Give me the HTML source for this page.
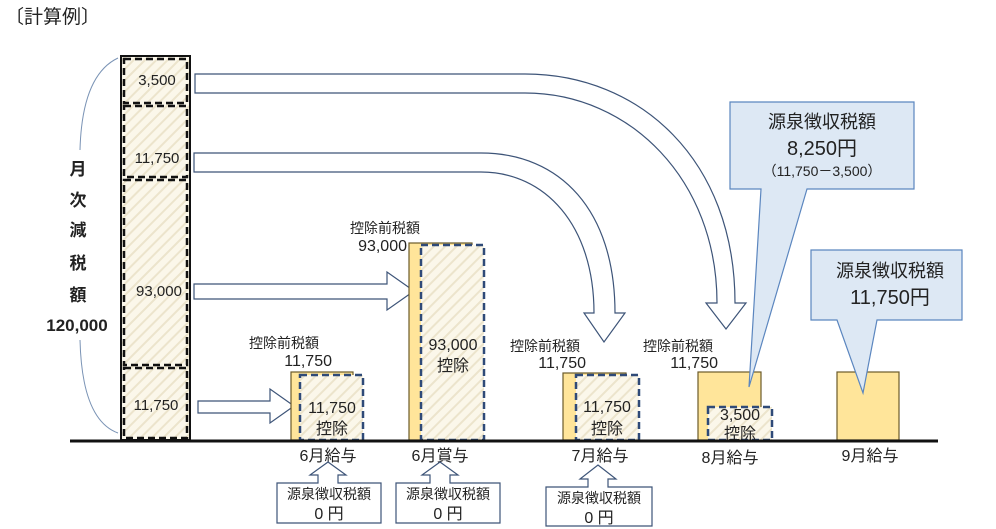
<!DOCTYPE html>
<html><head><meta charset="utf-8"><style>
body{margin:0;background:#fff;}
svg{display:block;}
text{font-family:"Liberation Sans","Noto Sans CJK JP",sans-serif;fill:#222;}
</style></head><body>
<svg width="996" height="529" viewBox="0 0 996 529" xmlns="http://www.w3.org/2000/svg">
<defs>
<pattern id="h" width="8" height="8" patternUnits="userSpaceOnUse" patternTransform="rotate(45)">
<rect width="8" height="8" fill="#fbf7ea"/><rect width="2" height="8" fill="#ece4cc"/>
</pattern>
</defs>
<text x="5" y="23" font-size="19">〔計算例〕</text>
<!-- brace -->
<path d="M118,58 Q82,75 80,150" fill="none" stroke="#7a93b5" stroke-width="1"/>
<path d="M80,340 Q82,420 118,433" fill="none" stroke="#7a93b5" stroke-width="1"/>
<g font-size="17" font-weight="bold" text-anchor="middle">
<text x="78" y="175">月</text><text x="78" y="206">次</text><text x="78" y="236">減</text>
<text x="78" y="269">税</text><text x="78" y="301">額</text><text x="77" y="331">120,000</text>
</g>
<!-- left column -->
<rect x="121" y="56" width="69" height="384" fill="url(#h)" stroke="#111" stroke-width="2"/>
<g fill="none" stroke="#111" stroke-width="2.5" stroke-dasharray="7,4">
<rect x="124" y="59" width="63" height="44"/>
<rect x="124" y="106" width="63" height="71"/>
<rect x="124" y="180" width="63" height="185"/>
<rect x="124" y="368" width="63" height="70"/>
</g>
<g font-size="15" text-anchor="middle">
<text x="157" y="85">3,500</text><text x="157" y="163">11,750</text>
<text x="159" y="296">93,000</text><text x="156" y="410">11,750</text>
</g>
<!-- curved arrows -->
<g fill="#fff" stroke="#3d5478" stroke-width="1.2">
<path d="M195,74 L525,74 C640,74 735,160 735,303 L746,303 L726,329 L706,303 L717,303 C717,180 630,93 525,93 L195,93 Z"/>
<path d="M194,153 L481,153 C560,153 615,210 615,313 L625,313 L604,342 L584,313 L594,313 C594,225 545,172 481,172 L194,172 Z"/>
<path d="M194,284 L387,284 L387,272 L414,291 L387,310 L387,299 L194,299 Z"/>
<path d="M198,401 L270,401 L270,389 L294,406 L270,423 L270,413 L198,413 Z"/>
</g>
<!-- bars -->
<g fill="#ffe59a" stroke="#6b5a2a" stroke-width="1.2">
<rect x="291" y="372" width="62" height="68"/>
<rect x="409" y="243" width="63" height="197"/>
<rect x="563" y="373" width="63" height="67"/>
<rect x="698" y="372" width="63" height="68"/>
<rect x="837" y="372" width="62" height="68"/>
</g>
<g fill="url(#h)" stroke="#2f4a78" stroke-width="2.5" stroke-dasharray="7,4">
<rect x="300" y="375" width="63" height="65"/>
<rect x="421" y="245" width="63" height="195"/>
<rect x="576" y="375" width="63" height="65"/>
<rect x="708" y="407" width="64" height="33"/>
</g>
<g font-size="16" text-anchor="middle">
<text x="332" y="413">11,750</text><text x="332" y="434">控除</text>
<text x="453" y="350">93,000</text><text x="453" y="371">控除</text>
<text x="607" y="412">11,750</text><text x="607" y="434">控除</text>
<text x="740" y="420">3,500</text><text x="740" y="439">控除</text>
</g>
<g font-size="14" text-anchor="middle">
<text x="284" y="348">控除前税額</text><text x="385" y="233">控除前税額</text>
<text x="545" y="351">控除前税額</text><text x="678" y="351">控除前税額</text>
</g>
<g font-size="16" text-anchor="end">
<text x="332" y="366">11,750</text><text x="407" y="251">93,000</text>
<text x="586" y="368">11,750</text><text x="718" y="368">11,750</text>
</g>
<line x1="70" y1="441" x2="938" y2="441" stroke="#111" stroke-width="3"/>
<g font-size="16" text-anchor="middle">
<text x="328" y="461">6月給与</text><text x="440" y="461">6月賞与</text>
<text x="600" y="461">7月給与</text><text x="730" y="463">8月給与</text><text x="870" y="461">9月給与</text>
</g>
<!-- callouts -->
<g fill="#dde8f4" stroke="#5b86bf" stroke-width="1.2">
<path d="M730,102 L914,102 L914,189 L807,189 L749,387 L761,189 L730,189 Z"/>
<path d="M811,250 L962,250 L962,320 L877,320 L863,393 L837,320 L811,320 Z"/>
</g>
<g text-anchor="middle">
<text x="822" y="128" font-size="18">源泉徴収税額</text>
<text x="822" y="155" font-size="20">8,250円</text>
<text x="822" y="176" font-size="14">（11,750－3,500）</text>
<text x="890" y="277" font-size="18">源泉徴収税額</text>
<text x="890" y="304" font-size="20">11,750円</text>
</g>
<!-- bottom boxes -->
<g fill="#fff" stroke="#3d5478" stroke-width="1.2">
<path d="M277,483 L318,483 L318,475 L310,475 L328,462 L346,475 L338,475 L338,483 L381,483 L381,523 L277,523 Z"/>
<path d="M396,483 L430,483 L430,475 L422,475 L440,462 L458,475 L450,475 L450,483 L500,483 L500,523 L396,523 Z"/>
<path d="M546,487 L588,487 L588,479 L580,479 L598,465 L616,479 L608,479 L608,487 L652,487 L652,526 L546,526 Z"/>
</g>
<g text-anchor="middle" font-size="14">
<text x="329" y="499">源泉徴収税額</text><text x="329" y="519" font-size="16">0 円</text>
<text x="448" y="499">源泉徴収税額</text><text x="448" y="519" font-size="16">0 円</text>
<text x="599" y="503">源泉徴収税額</text><text x="599" y="523" font-size="16">0 円</text>
</g>
</svg>
</body></html>
